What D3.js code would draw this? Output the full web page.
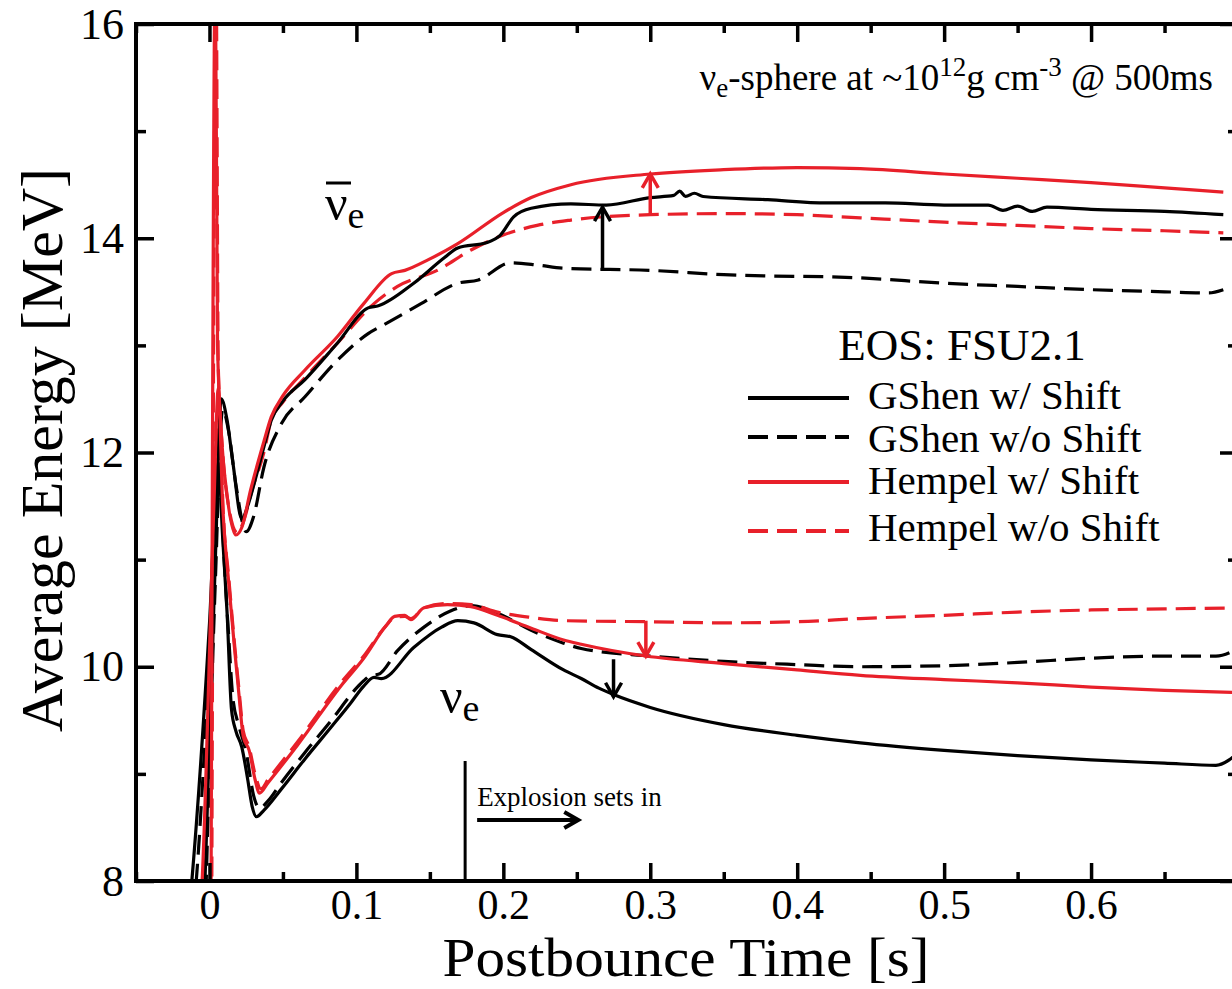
<!DOCTYPE html>
<html lang="en">
<head>
<meta charset="UTF-8">
<title>Average Energy vs Postbounce Time</title>
<script src="https://d3js.org/d3.v7.min.js"></script>
<style>
  body { margin: 0; background: #fff; }
  svg { display: block; }
  text { font-family: "Liberation Serif", "Times New Roman", serif; fill: #000; }
  .frame { fill: none; stroke: #000; stroke-width: 4; }
  .tick line { stroke: #000; stroke-width: 3.5; }
  .domain { display: none; }
  .curve { fill: none; stroke-width: 3.2; stroke-linejoin: round; }
</style>
</head>
<body>
<svg width="1232" height="989"></svg>
<script>
// [time (s), average energy (MeV)]
// anti electron neutrino (upper group)
const gshenShiftAnti = [[-0.004,7.6],[0.004,11.0],[0.008,12.5],[0.012,12.3],[0.016,11.9],[0.022,11.38],[0.026,11.5],[0.031,11.74],[0.037,12.05],[0.042,12.3],[0.05,12.48],[0.065,12.68],[0.087,13.02],[0.108,13.35],[0.115,13.37],[0.139,13.58],[0.16,13.82],[0.169,13.91],[0.189,13.96],[0.198,14.03],[0.207,14.2],[0.219,14.28],[0.246,14.32],[0.27,14.31],[0.3,14.38],[0.316,14.4],[0.32,14.44],[0.324,14.39],[0.33,14.42],[0.336,14.39],[0.38,14.36],[0.42,14.33],[0.46,14.33],[0.5,14.31],[0.53,14.31],[0.54,14.26],[0.55,14.3],[0.56,14.25],[0.57,14.29],[0.6,14.27],[0.65,14.25],[0.69,14.22]];
const gshenNoShiftAnti = [[-0.003,7.6],[0.004,10.8],[0.009,12.4],[0.013,12.2],[0.018,11.7],[0.025,11.26],[0.03,11.4],[0.037,11.86],[0.049,12.27],[0.065,12.52],[0.087,12.86],[0.108,13.11],[0.121,13.21],[0.144,13.39],[0.169,13.58],[0.183,13.61],[0.205,13.77],[0.223,13.75],[0.241,13.72],[0.3,13.7],[0.35,13.66],[0.443,13.63],[0.5,13.58],[0.55,13.55],[0.6,13.52],[0.65,13.5],[0.68,13.49],[0.69,13.52]];
const hempelShiftAnti = [[0.001,7.5],[0.004,16.5],[0.0055,13.0],[0.008,12.2],[0.012,11.6],[0.018,11.23],[0.022,11.3],[0.028,11.65],[0.037,12.1],[0.042,12.33],[0.05,12.53],[0.065,12.77],[0.087,13.08],[0.105,13.39],[0.124,13.67],[0.133,13.7],[0.149,13.8],[0.169,13.95],[0.2,14.24],[0.219,14.38],[0.246,14.5],[0.3,14.6],[0.35,14.64],[0.4,14.66],[0.443,14.65],[0.5,14.6],[0.55,14.56],[0.6,14.52],[0.65,14.47],[0.69,14.43]];
const hempelNoShiftAnti = [[0.0015,7.5],[0.0045,16.5],[0.006,12.8],[0.009,12.0],[0.013,11.5],[0.019,11.25],[0.023,11.35],[0.029,11.65],[0.037,12.0],[0.042,12.3],[0.05,12.47],[0.065,12.7],[0.087,13.02],[0.112,13.39],[0.128,13.55],[0.155,13.7],[0.178,13.89],[0.2,14.03],[0.223,14.12],[0.246,14.17],[0.3,14.22],[0.35,14.23],[0.4,14.22],[0.443,14.19],[0.5,14.15],[0.55,14.12],[0.6,14.09],[0.65,14.07],[0.69,14.05]];
// electron neutrino (lower group)
const gshenShiftNue = [[-0.02,6.9],[-0.012,8.0],[0.0,10.4],[0.006,11.9],[0.009,11.2],[0.012,10.5],[0.015,9.6],[0.018,9.4],[0.022,9.25],[0.026,8.95],[0.029,8.7],[0.032,8.6],[0.037,8.66],[0.049,8.86],[0.065,9.14],[0.083,9.44],[0.096,9.66],[0.105,9.82],[0.112,9.9],[0.117,9.89],[0.139,10.18],[0.158,10.37],[0.169,10.43],[0.18,10.41],[0.196,10.3],[0.205,10.28],[0.219,10.16],[0.241,9.97],[0.253,9.89],[0.265,9.8],[0.275,9.74],[0.3,9.62],[0.35,9.46],[0.4,9.36],[0.443,9.29],[0.5,9.22],[0.55,9.17],[0.6,9.13],[0.65,9.1],[0.685,9.08],[0.694,9.13],[0.7,9.2]];
const gshenNoShiftNue = [[-0.018,6.9],[-0.009,8.0],[0.002,10.6],[0.007,11.8],[0.01,11.0],[0.013,10.3],[0.016,9.7],[0.02,9.45],[0.025,9.2],[0.03,8.8],[0.034,8.68],[0.04,8.75],[0.049,8.92],[0.065,9.2],[0.083,9.5],[0.1,9.8],[0.105,9.87],[0.11,9.92],[0.115,9.93],[0.128,10.15],[0.146,10.37],[0.164,10.52],[0.178,10.57],[0.196,10.5],[0.219,10.34],[0.241,10.22],[0.253,10.17],[0.3,10.1],[0.35,10.05],[0.4,10.02],[0.443,10.0],[0.5,10.01],[0.55,10.04],[0.6,10.08],[0.65,10.1],[0.685,10.1],[0.7,10.17]];
const hempelShiftNue = [[-0.013,6.9],[-0.005,8.0],[0.003,11.5],[0.006,12.6],[0.009,11.5],[0.013,10.8],[0.017,10.18],[0.02,9.75],[0.023,9.35],[0.027,9.22],[0.031,8.95],[0.034,8.82],[0.04,8.92],[0.06,9.27],[0.09,9.83],[0.105,10.08],[0.12,10.38],[0.126,10.47],[0.133,10.48],[0.137,10.44],[0.146,10.55],[0.162,10.58],[0.178,10.56],[0.196,10.48],[0.219,10.36],[0.241,10.25],[0.253,10.21],[0.297,10.1],[0.35,10.03],[0.4,9.97],[0.443,9.92],[0.5,9.88],[0.55,9.85],[0.6,9.81],[0.65,9.78],[0.7,9.76]];
const hempelNoShiftNue = [[-0.012,6.9],[-0.004,8.0],[0.0035,11.6],[0.0065,12.5],[0.0095,11.4],[0.013,10.85],[0.017,10.22],[0.02,9.8],[0.023,9.4],[0.027,9.25],[0.031,9.0],[0.035,8.86],[0.04,8.95],[0.06,9.3],[0.09,9.86],[0.105,10.1],[0.12,10.38],[0.126,10.46],[0.133,10.47],[0.137,10.45],[0.146,10.55],[0.162,10.59],[0.178,10.58],[0.196,10.51],[0.219,10.46],[0.241,10.43],[0.3,10.42],[0.35,10.41],[0.4,10.42],[0.443,10.45],[0.5,10.48],[0.55,10.51],[0.6,10.53],[0.65,10.54],[0.7,10.55]];

const legendLabels = ["GShen w/ Shift", "GShen w/o Shift", "Hempel w/ Shift", "Hempel w/o Shift"];
const xMajor = [0, 0.1, 0.2, 0.3, 0.4, 0.5, 0.6];
const xMinor = [-0.05, 0.05, 0.15, 0.25, 0.35, 0.45, 0.55, 0.65];
const yMajor = [8, 10, 12, 14, 16];
const yMinor = [9, 11, 13, 15];
// shift arrows: [time, from, to]
const arrows = [[0.2675, 13.7, 14.29, "#000"], [0.3, 14.22, 14.6, "#e8202a"], [0.297, 10.43, 10.1, "#e8202a"], [0.275, 10.07, 9.72, "#000"]];
const explosionTime = 0.174;

const RED = "#e8202a";
const svg = d3.select("svg");
const x = d3.scaleLinear().domain([-0.05, 0.7]).range([136, 1238]);
const y = d3.scaleLinear().domain([8, 16]).range([881, 24]);

svg.append("clipPath").attr("id", "plot")
  .append("rect")
  .attr("x", x(-0.05)).attr("y", y(16))
  .attr("width", x(0.7) - x(-0.05)).attr("height", y(8) - y(16));

const line = d3.line().x(d => x(d[0])).y(d => y(d[1])).curve(d3.curveMonotoneX);

const series = [
  {data: gshenNoShiftAnti, color: "#000", dash: "20,9"},
  {data: gshenNoShiftNue, color: "#000", dash: "20,9"},
  {data: hempelNoShiftAnti, color: RED, dash: "20,9"},
  {data: hempelNoShiftNue, color: RED, dash: "20,9"},
  {data: gshenShiftAnti, color: "#000", dash: null},
  {data: gshenShiftNue, color: "#000", dash: null},
  {data: hempelShiftAnti, color: RED, dash: null},
  {data: hempelShiftNue, color: RED, dash: null}
];

svg.append("g").attr("clip-path", "url(#plot)")
  .selectAll("path").data(series).enter().append("path")
  .attr("class", "curve")
  .attr("d", d => line(d.data))
  .attr("stroke", d => d.color)
  .attr("stroke-dasharray", d => d.dash);

// axes, ticks pointing inward
function ticks(axis, vals, size, pos, labels) {
  const g = svg.append("g").attr("transform", pos)
    .call(axis.tickValues(vals).tickSize(size).tickPadding(labels ? 9 : 0)
      .tickFormat(d => d === 0 ? "0" : String(d)));
  if (!labels) g.selectAll("text").remove();
  g.selectAll("text").style("font-size", "42px");
  return g;
}
ticks(d3.axisBottom(x), xMajor, -18, `translate(0,${y(8)})`, true).selectAll("text").attr("dy", "0.7em");
ticks(d3.axisBottom(x), xMinor, -9, `translate(0,${y(8)})`, false);
ticks(d3.axisTop(x), xMajor, -18, `translate(0,${y(16)})`, false);
ticks(d3.axisTop(x), xMinor, -9, `translate(0,${y(16)})`, false);
ticks(d3.axisLeft(y), yMajor, -18, `translate(${x(-0.05)},0)`, true)
  .selectAll("text").attr("x", -12).style("font-size", "44px");
ticks(d3.axisLeft(y), yMinor, -10, `translate(${x(-0.05)},0)`, false);
ticks(d3.axisRight(y), yMajor, -18, `translate(${x(0.7)},0)`, false);
ticks(d3.axisRight(y), yMinor, -10, `translate(${x(0.7)},0)`, false);

svg.append("rect").attr("class", "frame")
  .attr("x", x(-0.05)).attr("y", y(16))
  .attr("width", x(0.7) - x(-0.05)).attr("height", y(8) - y(16));

// axis titles
svg.append("text").attr("x", 686).attr("y", 976).attr("text-anchor", "middle")
  .attr("textLength", 487).attr("lengthAdjust", "spacingAndGlyphs")
  .style("font-size", "54px").text("Postbounce Time [s]");
svg.append("text").attr("transform", "translate(62,450) rotate(-90)").attr("text-anchor", "middle")
  .style("font-size", "60px").text("Average Energy [MeV]");

// shift arrows
function arrow(t, e0, e1, color) {
  const xx = x(t), y0 = y(e0), y1 = y(e1), dir = y1 < y0 ? 1 : -1;
  const g = svg.append("g").attr("stroke", color).attr("stroke-width", 3.5).attr("fill", "none");
  g.append("line").attr("x1", xx).attr("x2", xx).attr("y1", y0).attr("y2", y1);
  g.append("path").attr("d", `M${xx - 8},${y1 + dir * 14}L${xx},${y1}L${xx + 8},${y1 + dir * 14}`);
}
arrows.forEach(a => arrow(a[0], a[1], a[2], a[3]));

// explosion marker
svg.append("line").attr("x1", x(explosionTime)).attr("x2", x(explosionTime))
  .attr("y1", y(9.12)).attr("y2", y(8)).attr("stroke", "#000").attr("stroke-width", 3);
svg.append("text").attr("x", x(explosionTime) + 12).attr("y", 806).style("font-size", "27px").text("Explosion sets in");
const ax0 = x(explosionTime) + 12, ax1 = x(0.251), ay = 820;
svg.append("line").attr("x1", ax0).attr("x2", ax1).attr("y1", ay).attr("y2", ay).attr("stroke", "#000").attr("stroke-width", 4);
svg.append("path").attr("d", `M${ax1 - 14},${ay - 8}L${ax1},${ay}L${ax1 - 14},${ay + 8}`)
  .attr("stroke", "#000").attr("stroke-width", 4).attr("fill", "none");

// flavour labels
const nubar = svg.append("text").attr("x", 325).attr("y", 220).style("font-size", "50px");
nubar.append("tspan").text("ν");
nubar.append("tspan").attr("dy", 8).style("font-size", "38px").text("e");
svg.append("line").attr("x1", 326).attr("x2", 351).attr("y1", 183).attr("y2", 183).attr("stroke", "#000").attr("stroke-width", 3);
const nu = svg.append("text").attr("x", 440).attr("y", 713).style("font-size", "50px");
nu.append("tspan").text("ν");
nu.append("tspan").attr("dy", 8).style("font-size", "38px").text("e");

// top annotation
const note = svg.append("text").attr("x", 1213).attr("y", 90).attr("text-anchor", "end").style("font-size", "37px");
note.append("tspan").text("ν");
note.append("tspan").attr("dy", 7).style("font-size", "27px").text("e");
note.append("tspan").attr("dy", -7).text("-sphere at ~10");
note.append("tspan").attr("dy", -14).style("font-size", "27px").text("12");
note.append("tspan").attr("dy", 14).text("g cm");
note.append("tspan").attr("dy", -14).style("font-size", "27px").text("-3");
note.append("tspan").attr("dy", 14).text(" @ 500ms");

// legend
svg.append("text").attr("x", 962).attr("y", 360).attr("text-anchor", "middle").style("font-size", "45px").text("EOS: FSU2.1");
const legY = [398, 437, 482, 531], legBase = [409, 452, 494, 541];
const legendSeries = [series[4], series[0], series[6], series[2]];
legendLabels.forEach((lab, i) => {
  svg.append("line").attr("x1", 748).attr("x2", 849).attr("y1", legY[i]).attr("y2", legY[i])
    .attr("stroke", legendSeries[i].color).attr("stroke-width", 4)
    .attr("stroke-dasharray", legendSeries[i].dash);
  svg.append("text").attr("x", 868).attr("y", legBase[i]).style("font-size", "41px").text(lab);
});
</script>
</body>
</html>
